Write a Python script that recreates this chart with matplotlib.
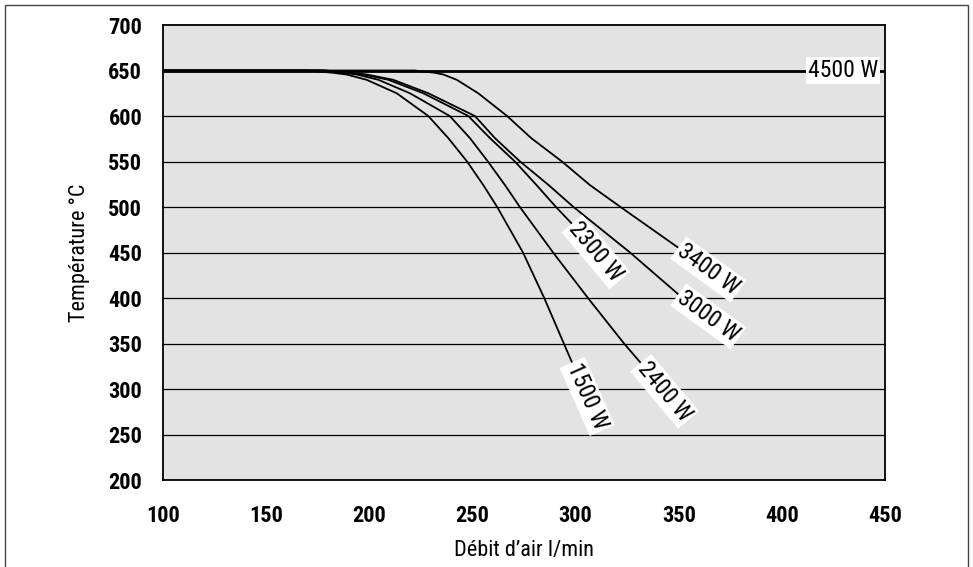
import matplotlib
matplotlib.use("Agg")
import matplotlib.pyplot as plt
from matplotlib import font_manager as fm
from matplotlib.patches import Rectangle

# pick a condensed face if one is around, the original uses a narrow grotesk
fonts = fm.fontManager.ttflist
names = {f.name for f in fonts}
family = None
for cand in ['Liberation Sans Narrow', 'Roboto Condensed', 'Open Sans Condensed']:
    if cand in names:
        family = cand
        break
stretch = 'normal'
if family is None:
    family = 'DejaVu Sans'
    if any(f.name == 'DejaVu Sans' and f.stretch == 'condensed' for f in fonts):
        stretch = 'condensed'
plt.rcParams['font.family'] = [family, 'DejaVu Sans']
plt.rcParams['font.stretch'] = stretch

# values (temperature vs air flow)
x_1500 = [100, 170, 182.4, 189, 198.7, 213.3, 228.6, 238.3, 247.4, 255.3, 262, 274.5, 284.8, 294.3, 298.7]
y_1500 = [650, 650, 647.5, 645.6, 639.8, 625, 600, 575.7, 550, 524, 500, 450, 400, 350, 327]
x_2400 = [100, 176, 187.3, 193.9, 204.4, 219.7, 239, 248.8, 257.5, 265.8, 273, 289.1, 306, 323.5, 332.2]
y_2400 = [650, 650, 647.5, 645.6, 639.8, 625, 600, 575.7, 550, 524, 500, 450, 400, 350, 327]
x_2300 = [100, 178, 189.7, 197.1, 209.2, 226.2, 248, 258.5, 270.6, 281.1, 290.5, 298.9]
y_2300 = [650, 650, 647.5, 645.6, 639.8, 625, 600, 575.7, 550, 524, 500, 480]
x_3000 = [100, 179, 190.6, 198.7, 211.6, 228.6, 251.2, 260.9, 273.1, 287, 299, 326.4, 350.6]
y_3000 = [650, 650, 647.5, 645.6, 639.8, 625, 600, 575.7, 550, 524, 500, 450, 402.5]
x_3400 = [100, 222, 231.8, 235.9, 242.4, 252.8, 266.8, 278.5, 293.4, 307, 321.8, 350.6]
y_3400 = [650, 650, 647.5, 645.6, 639.8, 625, 600, 575.7, 550, 524, 500, 454]
x_4500 = [100, 450]
y_4500 = [650, 650]

labels = ['1500 W', '2400 W', '2300 W', '3000 W', '3400 W']
label_angles = [-66, -50, -50, -36, -36]

x_ticks = [100, 150, 200, 250, 300, 350, 400, 450]
y_ticks = [200, 250, 300, 350, 400, 450, 500, 550, 600, 650, 700]

fig = plt.figure(figsize=(9.73, 5.67), dpi=100)
ax = fig.add_axes([0.1675, 0.1534, 0.7421, 0.8025])
ax.set_facecolor('#e3e3e3')

for y in y_ticks[1:-1]:
    ax.axhline(y, color='black', lw=0.9, zorder=1)

ax.plot(x_4500, y_4500, color='black', lw=2.0, zorder=3)

curves = [(x_1500, y_1500), (x_2400, y_2400), (x_2300, y_2300),
          (x_3000, y_3000), (x_3400, y_3400)]
for (xs, ys), lab, ang in zip(curves, labels, label_angles):
    ax.plot(xs, ys, color='black', lw=1.3, zorder=3,
            solid_joinstyle='round')
    ax.text(xs[-1], ys[-1], lab, rotation=ang, rotation_mode='anchor',
            ha='left', va='center', fontsize=17, zorder=4,
            bbox=dict(facecolor='white', edgecolor='none', pad=1.5))

ax.text(429.6, 650, '4500 W', ha='center', va='center', fontsize=17, zorder=4,
        bbox=dict(facecolor='white', edgecolor='none', pad=1.5))

ax.set_xlim(100, 450)
ax.set_ylim(200, 700)
ax.set_xticks(x_ticks)
ax.set_yticks(y_ticks)
ax.tick_params(length=0, labelsize=16)
ax.tick_params(axis='x', pad=18)
ax.tick_params(axis='y', pad=15)
for lab in ax.get_xticklabels() + ax.get_yticklabels():
    lab.set_fontweight('bold')
for s in ax.spines.values():
    s.set_linewidth(1.3)

ax.set_xlabel('Débit d\u2019air l/min', fontsize=16, labelpad=9)
ax.set_ylabel('Température °C', fontsize=16, labelpad=13)

# outer frame
fig.add_artist(Rectangle((5 / 973, -0.05), 963 / 973, 1.05 - 5 / 567,
                         transform=fig.transFigure, fill=False,
                         edgecolor='#444444', lw=1.0))

fig.savefig('out.png', dpi=100)
